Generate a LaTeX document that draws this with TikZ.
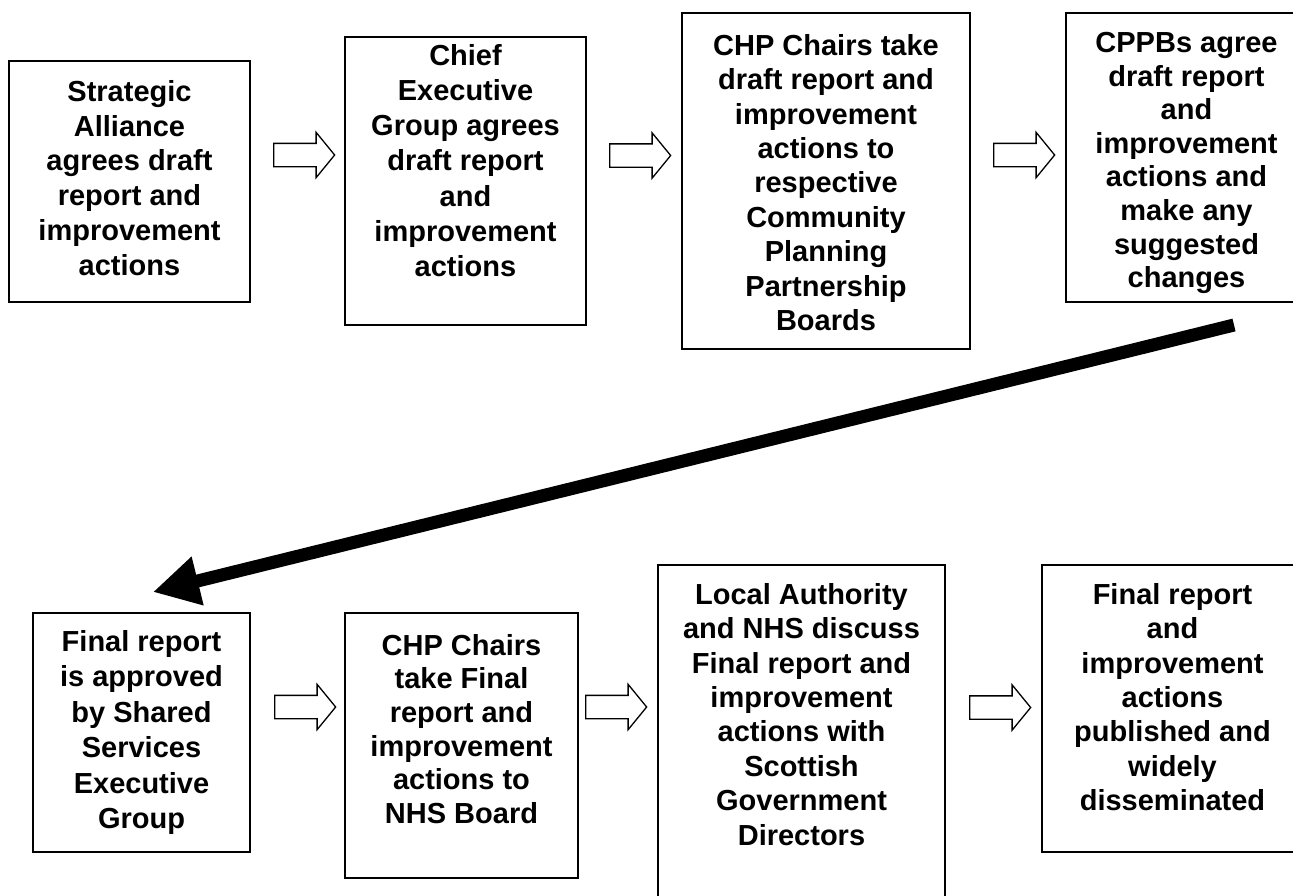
\documentclass[tikz,border=0pt]{standalone}
\usepackage{fontspec}
\setmainfont{Liberation Sans}
\usetikzlibrary{shapes.arrows,arrows.meta,calc}
\begin{document}
\begin{tikzpicture}[x=1pt,y=-1pt,
  flowbox/.style={draw, line width=2pt, rectangle, inner sep=0pt, outer sep=0pt, anchor=north west},
  boxtext/.style={anchor=north, align=center, inner sep=0pt, font=\fontsize{29pt}{#1}\selectfont\bfseries},
  boxtext/.default=33.6pt,
  hollow/.style={shape=single arrow, draw, line width=1.3pt, fill=white, inner sep=0pt, inner ysep=11pt,
    single arrow head extend=11pt, single arrow tip angle=101.4, single arrow head indent=0pt,
    minimum height=61pt, anchor=tail},
  bigarrow/.style={line width=13pt, -{Triangle[length=46pt,width=47pt]}}
]
\useasboundingbox (0,0) rectangle (1293,895);

% top row boxes
\node[flowbox, minimum width=241pt, minimum height=241pt] (b1) at (9,61) {};
\node[boxtext=34.8pt] (t1) at ($(b1.north)+(0,19)$) {Strategic\\Alliance\\agrees draft\\report and\\improvement\\actions};

\node[flowbox, minimum width=241pt, minimum height=288pt] (b2) at (345,37) {};
\node[boxtext=35.2pt] (t2) at ($(b2.north)+(0,7)$) {Chief\\Executive\\Group agrees\\draft report\\and\\improvement\\actions};

\node[flowbox, minimum width=288pt, minimum height=336pt] (b3) at (682,13) {};
\node[boxtext=34.4pt] (t3) at ($(b3.north)+(0,21)$) {CHP Chairs take\\draft report and\\improvement\\actions to\\respective\\Community\\Planning\\Partnership\\Boards};

\node[flowbox, minimum width=241pt, minimum height=289pt] (b4) at (1066,13) {};
\node[boxtext=33.6pt] (t4) at ($(b4.north)+(0,19)$) {CPPBs agree\\draft report\\and\\improvement\\actions and\\make any\\suggested\\changes};

% bottom row boxes
\node[flowbox, minimum width=217pt, minimum height=239pt] (b5) at (33,613) {};
\node[boxtext=35.5pt] (t5) at ($(b5.north)+(0,17)$) {Final report\\is approved\\by Shared\\Services\\Executive\\Group};

\node[flowbox, minimum width=233pt, minimum height=265pt] (b6) at (345,613) {};
\node[boxtext=33.6pt] (t6) at ($(b6.north)+(0,21)$) {CHP Chairs\\take Final\\report and\\improvement\\actions to\\NHS Board};

\node[flowbox, minimum width=287pt, minimum height=345pt] (b7) at (658,565) {};
\node[boxtext=34.4pt] (t7) at ($(b7.north)+(0,18)$) {Local Authority\\and NHS discuss\\Final report and\\improvement\\actions with\\Scottish\\Government\\Directors};

\node[flowbox, minimum width=261pt, minimum height=287pt] (b8) at (1042,565) {};
\node[boxtext=34.4pt] (t8) at ($(b8.north)+(0,18)$) {Final report\\and\\improvement\\actions\\published and\\widely\\disseminated};

% hollow block arrows
\node[hollow] (a1) at (273,155) {};
\node[hollow] (a2) at (609,155.5) {};
\node[hollow] (a3) at (993,155) {};
\node[hollow] (a5) at (274,707) {};
\node[hollow] (a6) at (585,707) {};
\node[hollow] (a7) at (969,707.5) {};

% big arrow from top row to bottom row
\coordinate (s4) at ($(b4.south west)+(168,23)$);
\coordinate (e5) at ($(b5.north west)+(120,-21)$);
\draw[bigarrow] (s4) -- (e5);
\end{tikzpicture}
\end{document}
